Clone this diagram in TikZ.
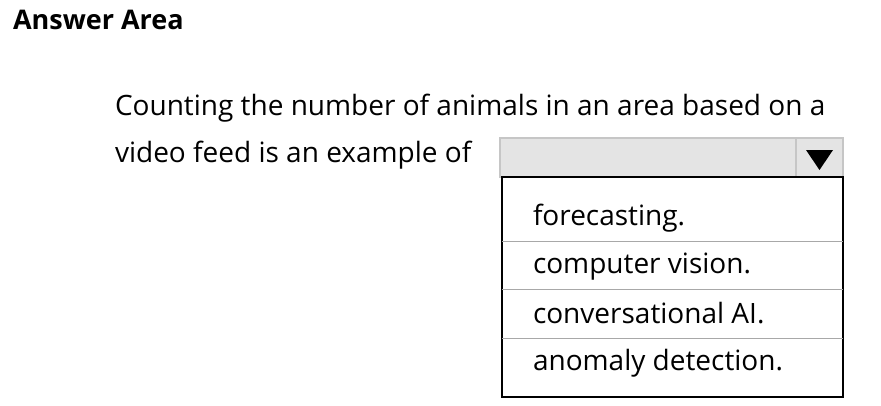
\documentclass[tikz,border=0pt]{standalone}
\usepackage{fontspec}
\setmainfont{Open Sans}
\usetikzlibrary{positioning}
\definecolor{combogray}{HTML}{E4E4E4}
\definecolor{comboline}{HTML}{C6C6C6}
\definecolor{rowline}{HTML}{A8A8A8}

\begin{document}
\begin{tikzpicture}[x=1pt,y=-1pt,
    every node/.style={inner sep=0pt, outer sep=0pt},
    txt/.style={anchor=base west, font=\fontsize{28}{32}\selectfont}]
  \useasboundingbox (0,0) rectangle (881,405);

  \node[txt, font=\bfseries\fontsize{27}{30}\selectfont] (title) at (13,29) {Answer Area};
  \node[txt] (q1) at (115,115) {Counting the number of animals in an area based on a};
  \node[txt] (q2) at (115,162) {video feed is an example of};

  % combo box with its button
  \node[draw=comboline, fill=combogray, line width=1.5pt, anchor=north west,
        minimum width=343pt, minimum height=39pt] (combo) at (500,138) {};
  \node[draw=comboline, line width=1.5pt, anchor=north east,
        minimum width=47pt, minimum height=39pt] (btn) at (combo.north east) {};
  \fill ([shift={(-13.5,-7.5)}]btn.center) -- ([shift={(13.5,-7.5)}]btn.center)
        -- ([shift={(0,12.5)}]btn.center) -- cycle;

  % open list
  \node[draw, line width=1.2pt, anchor=north west,
        minimum width=341pt, minimum height=220pt] (list) at (502,177) {};
  \foreach \y in {241,289,338} {
    \draw[rowline, line width=1pt] (502,\y) -- (843,\y);
  }
  \foreach \opt/\y [count=\i] in {forecasting./225, computer vision./273,
      conversational AI./323, anomaly detection./370} {
    \node[txt] (opt\i) at (533,\y) {\opt};
  }
\end{tikzpicture}
\end{document}
